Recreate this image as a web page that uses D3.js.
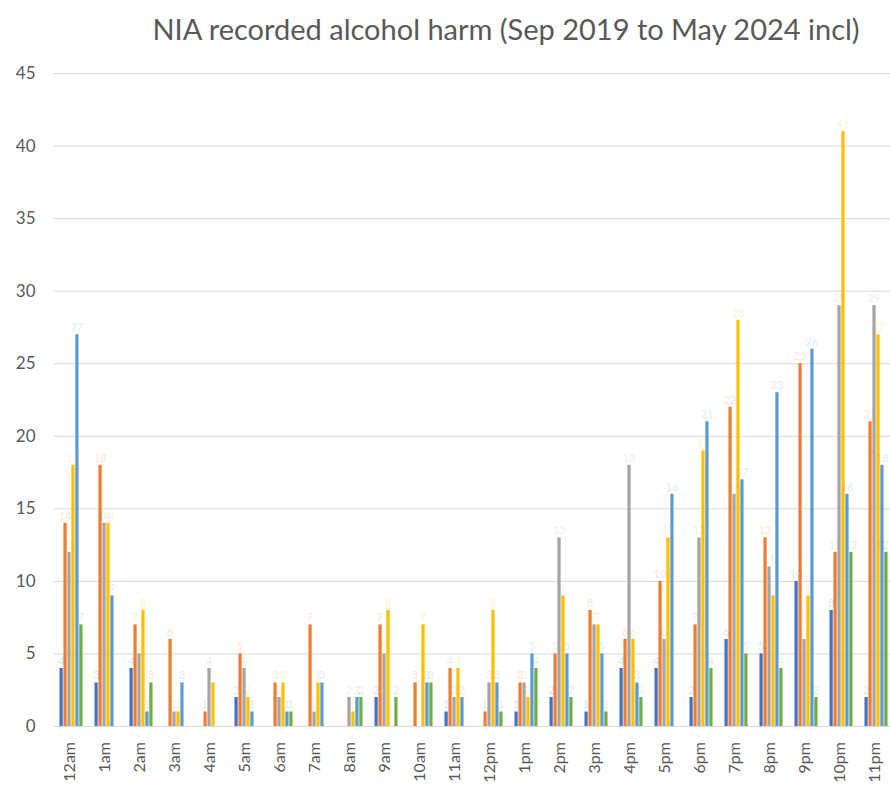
<!DOCTYPE html>
<html>
<head>
<meta charset="utf-8">
<script src="https://cdn.jsdelivr.net/npm/d3@7"></script>
<style>
  html, body { margin: 0; padding: 0; background: #fff; }
  svg { display: block; }
</style>
</head>
<body>
<svg id="chart" width="890" height="787"></svg>
<script>
// NIA recorded alcohol harm by hour of day, one bar per year (6 series)

const hours = ["12am","1am","2am","3am","4am","5am","6am","7am","8am","9am","10am","11am",
               "12pm","1pm","2pm","3pm","4pm","5pm","6pm","7pm","8pm","9pm","10pm","11pm"];

const seriesKeys = ["2019", "2020", "2021", "2022", "2023", "2024"];

const s2019 = [4,3,4,0,0,2,0,0,0,2,0,1,0,1,2,1,4,4,2,6,5,10,8,2];
const s2020 = [14,18,7,6,1,5,3,7,0,7,3,4,1,3,5,8,6,10,7,22,13,25,12,21];
const s2021 = [12,14,5,1,4,4,2,1,2,5,0,2,3,3,13,7,18,6,13,16,11,6,29,29];
const s2022 = [18,14,8,1,3,2,3,3,1,8,7,4,8,2,9,7,6,13,19,28,9,9,41,27];
const s2023 = [27,9,1,3,0,1,1,3,2,0,3,2,3,5,5,5,3,16,21,17,23,26,16,18];
const s2024 = [7,0,3,0,0,0,1,0,2,2,3,0,1,4,2,1,2,0,4,5,4,2,12,12];

const yTicks = [0, 5, 10, 15, 20, 25, 30, 35, 40, 45];

const seriesValues = [s2019, s2020, s2021, s2022, s2023, s2024];
const colors = ["#4472C4", "#ED7D31", "#A5A5A5", "#FFC000", "#5B9BD5", "#70AD47"];

const svg = d3.select("#chart");
const W = 890, H = 787;
const mLeft = 53.5, mRight = 893.5, mTop = 73, mBottom = 726;
const textColor = "#595959";
const font = "Lato, 'Liberation Sans', sans-serif";

const x0 = d3.scaleBand().domain(hours).range([mLeft, mRight])
  .paddingInner(0.3).paddingOuter(0.15);
const x1 = d3.scaleBand().domain(seriesKeys).range([0, x0.bandwidth()]).padding(0.18);
const y = d3.scaleLinear().domain([0, 45]).range([mBottom, mTop]);

// title
svg.append("text")
  .attr("x", 506).attr("y", 40)
  .attr("text-anchor", "middle")
  .attr("font-family", font)
  .attr("font-size", 29)
  .attr("fill", textColor)
  .text("NIA recorded alcohol harm (Sep 2019 to May 2024 incl)");

// gridlines + y labels
const yAxis = svg.append("g").attr("transform", `translate(${mLeft},0)`)
  .call(d3.axisLeft(y).tickValues(yTicks).tickSize(-(W - mLeft)).tickPadding(18));
yAxis.select(".domain").remove();
yAxis.selectAll(".tick line").attr("stroke", "#d9d9d9").attr("stroke-width", 1);
yAxis.selectAll(".tick text")
  .attr("fill", textColor)
  .attr("font-family", font)
  .attr("font-size", 17);

// bars
const rows = hours.map((h, i) => ({
  hour: h,
  vals: seriesKeys.map((k, j) => ({ key: k, idx: j, value: seriesValues[j][i] }))
}));

const groups = svg.append("g").selectAll("g")
  .data(rows).enter().append("g")
  .attr("transform", d => `translate(${x0(d.hour)},0)`);

groups.selectAll("rect")
  .data(d => d.vals.filter(v => v.value > 0))
  .enter().append("rect")
  .attr("x", d => x1(d.key))
  .attr("y", d => y(d.value))
  .attr("width", x1.bandwidth())
  .attr("height", d => y(0) - y(d.value))
  .attr("fill", d => colors[d.idx]);

// pale value labels above each bar (barely visible in the source);
// keep the last ones inside the right edge
groups.each(function(row) {
  const gx = x0(row.hour);
  d3.select(this).selectAll("text")
    .data(row.vals.filter(v => v.value > 0))
    .enter().append("text")
    .attr("x", d => Math.min(x1(d.key) + x1.bandwidth() / 2, W - 8 - gx))
    .attr("y", d => y(d.value) - 3)
    .attr("text-anchor", "middle")
    .attr("font-family", font)
    .attr("font-size", 11)
    .attr("fill", d => colors[d.idx])
    .attr("opacity", 0.2)
    .text(d => d.value);
});

// x labels, rotated
const xAxis = svg.append("g").attr("transform", `translate(0,${mBottom})`)
  .call(d3.axisBottom(x0).tickSize(0).tickPadding(0));
xAxis.select(".domain").remove();
xAxis.selectAll(".tick text")
  .attr("fill", textColor)
  .attr("font-family", font)
  .attr("font-size", 16)
  .attr("text-anchor", "end")
  .attr("transform", "rotate(-90)")
  .attr("x", -16)
  .attr("y", -2)
  .attr("dy", "0.35em");
</script>
</body>
</html>
